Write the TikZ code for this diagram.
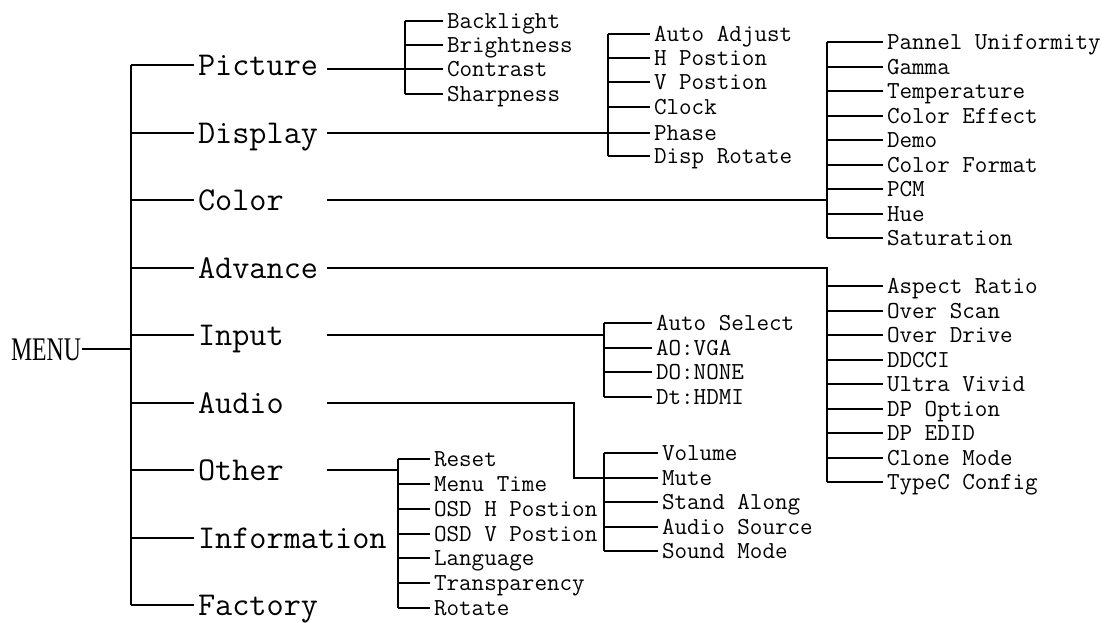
\documentclass[tikz,border=0pt]{standalone}
\usepackage{fontspec}
\newfontfamily\rootfont[FakeStretch=0.72]{Liberation Serif}
\tikzset{
  root/.style={anchor=west, inner sep=0pt, text height=22pt, text depth=0pt, font={\rootfont\fontsize{33}{33}\selectfont}},
  head/.style={anchor=west, inner xsep=3pt, inner ysep=0pt, text height=20.4pt, text depth=0pt, font={\ttfamily\fontsize{33.3}{33.3}\selectfont}},
  headout/.style={head, text width=125pt, align=left},
  leaf/.style={anchor=west, inner xsep=3pt, inner ysep=0pt, text height=14.9pt, text depth=0pt, font={\ttfamily\fontsize{24.4}{24.4}\selectfont}},
}
\begin{document}
\begin{tikzpicture}[x=1pt, y=-1pt, line width=2pt]
    \useasboundingbox (0,0) rectangle (1118,623);
    % root and first level
    \node[root] (menu) at (10,349) {MENU};
    \coordinate (trunk) at (131,0);
    \node[headout] (pic) at (194,65) {Picture};
    \node[headout] (dsp) at (194,133) {Display};
    \node[headout] (col) at (194,200) {Color};
    \node[headout] (adv) at (194,268) {Advance};
    \node[headout] (inp) at (194,335) {Input};
    \node[headout] (aud) at (194,403) {Audio};
    \node[headout] (oth) at (194,470) {Other};
    \node[head] (inf) at (194,538) {Information};
    \node[head] (fac) at (194,605) {Factory};
    \draw (menu.east) -- (menu.east -| trunk);
    \draw (pic.west -| trunk) -- (fac.west -| trunk);
    \foreach \nm in {pic,dsp,col,adv,inp,aud,oth,inf,fac}
        \draw (\nm.west -| trunk) -- (\nm.west);
    % bus lines of the sub menus
    \coordinate (picbus) at (405,0);
    \coordinate (dspbus) at (608,0);
    \coordinate (colbus) at (827,0);
    \coordinate (inpbus) at (604,0);
    \coordinate (audbus) at (604,0);
    \coordinate (audbend) at (574,0);
    \coordinate (othbus) at (398,0);
    % Picture
    \foreach \nm/\yy/\lab in {bl/21/Backlight, br/45/Brightness, ct/69/Contrast, sh/94/Sharpness} {
        \node[leaf] (\nm) at (443,\yy) {\lab};
        \draw (\nm.west -| picbus) -- (\nm.west);
    }
    \draw (bl.west -| picbus) -- (sh.west -| picbus);
    \draw (pic.east |- ct.west) -- (ct.west -| picbus);
    % Display
    \foreach \nm/\yy/\lab in {aa/34/Auto Adjust, hp/58/H Postion, vp/82/V Postion, ck/107/Clock, ph/133/Phase, dr/156/Disp Rotate} {
        \node[leaf] (\nm) at (650,\yy) {\lab};
        \draw (\nm.west -| dspbus) -- (\nm.west);
    }
    \draw (aa.west -| dspbus) -- (dr.west -| dspbus);
    \draw (dsp.east) -- (dsp.east -| dspbus);
    % Color
    \foreach \nm/\yy/\lab in {pu/42/Pannel Uniformity, ga/67/Gamma, te/91/Temperature, ce/116/Color Effect, de/140/Demo, cf/165/Color Format, pc/189/PCM, hu/214/Hue, sa/238/Saturation} {
        \node[leaf] (\nm) at (883,\yy) {\lab};
        \draw (\nm.west -| colbus) -- (\nm.west);
    }
    \draw (pu.west -| colbus) -- (sa.west -| colbus);
    \draw (col.east) -- (col.east -| colbus);
    % Advance
    \foreach \nm/\yy/\lab in {ar/286/Aspect Ratio, os/311/Over Scan, od/335/Over Drive, dd/360/DDCCI, uv/384/Ultra Vivid, dpo/409/DP Option, dpe/433/DP EDID, cm/458/Clone Mode, tc/482/TypeC Config} {
        \node[leaf] (\nm) at (883,\yy) {\lab};
        \draw (\nm.west -| colbus) -- (\nm.west);
    }
    \draw (adv.east) -- (adv.east -| colbus) -- (tc.west -| colbus);
    % Input
    \foreach \nm/\yy/\lab in {as/323/Auto Select, ao/348/AO:VGA, do/372/DO:NONE, dt/397/Dt:HDMI} {
        \node[leaf] (\nm) at (652,\yy) {\lab};
        \draw (\nm.west -| inpbus) -- (\nm.west);
    }
    \draw (as.west -| inpbus) -- (dt.west -| inpbus);
    \draw (inp.east) -- (inp.east -| inpbus);
    % Audio
    \foreach \nm/\yy/\lab in {vo/453/Volume, mu/478/Mute, sal/502/Stand Along, aso/527/Audio Source, sm/551/Sound Mode} {
        \node[leaf] (\nm) at (658,\yy) {\lab};
        \draw (\nm.west -| audbus) -- (\nm.west);
    }
    \draw (vo.west -| audbus) -- (sm.west -| audbus);
    \draw (aud.east) -- (aud.east -| audbend) -- (mu.west -| audbend) -- (mu.west -| audbus);
    % Other
    \foreach \nm/\yy/\lab in {rs/459/Reset, mt/484/Menu Time, oh/509/OSD H Postion, ov/534/OSD V Postion, la/558/Language, tr/583/Transparency, ro/608/Rotate} {
        \node[leaf] (\nm) at (430,\yy) {\lab};
        \draw (\nm.west -| othbus) -- (\nm.west);
    }
    \draw (rs.west -| othbus) -- (ro.west -| othbus);
    \draw (oth.east) -- (oth.east -| othbus);
\end{tikzpicture}
\end{document}
